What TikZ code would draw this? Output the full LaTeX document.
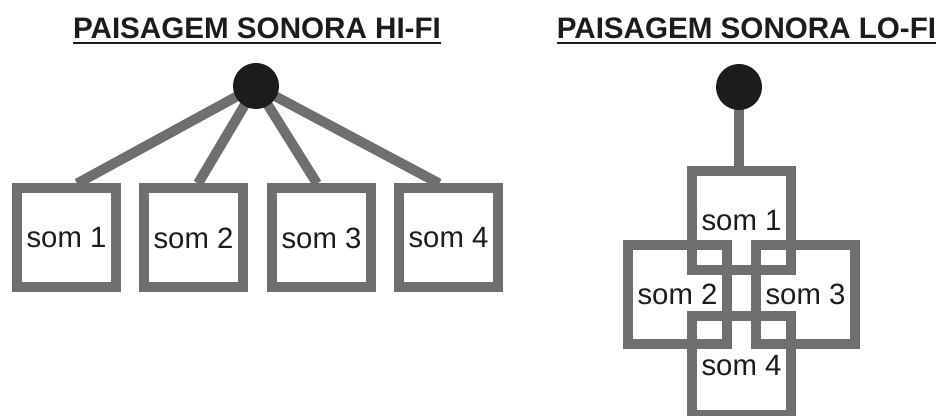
\documentclass[tikz,border=0pt]{standalone}
\usepackage{fontspec}
\setmainfont{Liberation Sans}
\definecolor{linegray}{HTML}{6F6F6F}
\definecolor{ink}{HTML}{1C1C1C}

\begin{document}
\begin{tikzpicture}[x=0.75pt,y=-0.75pt,
    som/.style={draw=linegray,line width=7.5pt,minimum size=74.25pt,inner sep=0pt,
                text=ink,font=\fontsize{22}{24}\selectfont},
    titulo/.style={anchor=base,inner sep=0pt,text=ink,font=\bfseries\fontsize{22.2}{26}\selectfont},
    haste/.style={draw=linegray,line width=7.5pt},
    fonte/.style={circle,fill=ink,minimum size=34.5pt,inner sep=0pt}]
    \useasboundingbox (0,0) rectangle (939,416);
    \clip (0,0) rectangle (939,416);

    % hi-fi: four separate sounds hanging from one source
    \node [titulo] (tHi) at (257,39) {PAISAGEM SONORA HI-FI};
    \draw [ink,line width=1.5pt] ([yshift=-2.8pt]tHi.base west) -- ([yshift=-2.8pt]tHi.base east);

    \node [som] (h1) at (66.5,238) {som 1};
    \node [som] (h2) at (193.5,238) {som 2};
    \node [som] (h3) at (321.5,238) {som 3};
    \node [som] (h4) at (448.5,238) {som 4};

    \coordinate (hubHi) at (256,86);
    \draw [haste] (hubHi) -- ([xshift=8pt]h1.north);
    \draw [haste] (hubHi) -- ([xshift=3.4pt]h2.north);
    \draw [haste] (hubHi) -- ([xshift=-3.4pt]h3.north);
    \draw [haste] (hubHi) -- ([xshift=-7pt]h4.north);
    \node [fonte] (fHi) at (hubHi) {};

    % lo-fi: the same sounds piled over one another
    \node [titulo] (tLo) at (746.5,39) {PAISAGEM SONORA LO-FI};
    \draw [ink,line width=1.5pt] ([yshift=-2.8pt]tLo.base west) -- ([yshift=-2.8pt]tLo.base east);

    \node [som] (l1) at (741.5,220.5) {som 1};
    \node [som] (l2) at (677.5,294.5) {som 2};
    \node [som] (l3) at (805.5,294.5) {som 3};
    \node [som] (l4) at (741.5,366) {som 4};

    \coordinate (hubLo) at (739,87);
    \draw [haste] (hubLo) -- (hubLo |- l1.north);
    \node [fonte] (fLo) at (hubLo) {};
\end{tikzpicture}
\end{document}
